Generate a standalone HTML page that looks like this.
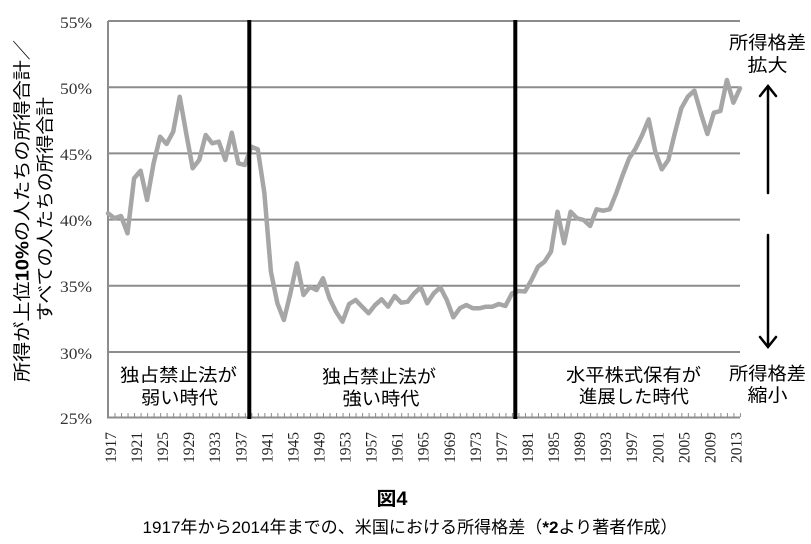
<!DOCTYPE html>
<html><head><meta charset="utf-8"><style>
html,body{margin:0;padding:0;background:#fff;}
svg{display:block;}
</style></head><body>
<svg width="811" height="544" viewBox="0 0 811 544" xmlns="http://www.w3.org/2000/svg">
<rect width="811" height="544" fill="#fff"/>
<!-- gridlines -->
<g stroke="#8c8c8c" stroke-width="2">
<line x1="108" y1="21" x2="740" y2="21"/>
<line x1="108" y1="87.2" x2="740" y2="87.2"/>
<line x1="108" y1="153.4" x2="740" y2="153.4"/>
<line x1="108" y1="219.6" x2="740" y2="219.6"/>
<line x1="108" y1="285.8" x2="740" y2="285.8"/>
<line x1="108" y1="352" x2="740" y2="352"/>
<line x1="108" y1="417.5" x2="740" y2="417.5"/>
<line x1="108" y1="21" x2="108" y2="418.5"/>
</g>
<line x1="108" y1="415" x2="741" y2="415" stroke="#8c8c8c" stroke-width="4" stroke-dasharray="1 5.515"/>
<!-- y tick labels -->
<g font-family="Liberation Serif, serif" font-size="16" fill="#333" text-anchor="end">
<text x="92" y="28" textLength="32" lengthAdjust="spacingAndGlyphs">55%</text>
<text x="92" y="94" textLength="32" lengthAdjust="spacingAndGlyphs">50%</text>
<text x="92" y="160" textLength="32" lengthAdjust="spacingAndGlyphs">45%</text>
<text x="92" y="226" textLength="32" lengthAdjust="spacingAndGlyphs">40%</text>
<text x="92" y="292" textLength="32" lengthAdjust="spacingAndGlyphs">35%</text>
<text x="92" y="359" textLength="32" lengthAdjust="spacingAndGlyphs">30%</text>
<text x="92" y="424" textLength="32" lengthAdjust="spacingAndGlyphs">25%</text>
</g>
<!-- data -->
<polyline fill="none" stroke="#a6a6a6" stroke-width="4.5" stroke-linejoin="round" stroke-linecap="round" points="
108.0,213.3 114.5,218.3 121.0,216 127.5,233.3 134.1,178.3 140.6,170.7 147.1,200 153.6,163.3 160.1,136.7 166.6,144
173.2,131.7 179.7,96.7 186.2,133.3 192.7,168.3 199.2,160 205.7,135 212.2,143.3 218.8,141.7 225.3,160 231.8,132.7
238.3,163.3 244.8,165 251.3,146.7 257.8,149.3 264.4,193.3 270.9,271.7 277.4,303.3 283.9,320 290.4,293.3 296.9,263.3
303.5,295 310.0,286.7 316.5,290 323.0,278.3 329.5,298.3 336.0,311.7 342.5,321.7 349.1,304 355.6,300 362.1,306.7
368.6,313.3 375.1,305 381.6,299.3 388.1,306.7 394.7,296 401.2,302.7 407.7,301.7 414.2,293.3 420.7,287.3 427.2,303.3
433.8,293.3 440.3,287.3 446.8,300 453.3,317.3 459.8,308.3 466.3,305 472.8,308.3 479.4,308.3 485.9,306.7 492.4,306.7
498.9,304 505.4,306 511.9,293.5 518.4,291 525.0,291.5 531.5,280 538.0,266.7 544.5,261.7 551.0,251.7 557.5,211.7
564.1,243.3 570.6,211.7 577.1,218.3 583.6,220 590.1,226 596.6,209.3 603.1,210.7 609.7,209.3 616.2,193.3 622.7,175
629.2,158.3 635.7,148.3 642.2,135 648.7,119.3 655.3,151.7 661.8,169.3 668.3,160 674.8,133.3 681.3,108.3 687.8,96.7
694.4,90.7 700.9,113.3 707.4,134 713.9,112.7 720.4,111 726.9,80 733.4,102.7 740.0,88.3"/>
<!-- black vertical lines -->
<line x1="249.3" y1="20" x2="249.3" y2="419" stroke="#000" stroke-width="4"/>
<line x1="515.3" y1="20" x2="515.3" y2="419" stroke="#000" stroke-width="4"/>
<!-- x labels -->
<g font-family="Liberation Serif, serif" font-size="16" fill="#222" text-anchor="end">
<text transform="translate(116,432) rotate(-90)" textLength="31" lengthAdjust="spacingAndGlyphs">1917</text>
<text transform="translate(142.1,432) rotate(-90)" textLength="31" lengthAdjust="spacingAndGlyphs">1921</text>
<text transform="translate(168.1,432) rotate(-90)" textLength="31" lengthAdjust="spacingAndGlyphs">1925</text>
<text transform="translate(194.2,432) rotate(-90)" textLength="31" lengthAdjust="spacingAndGlyphs">1929</text>
<text transform="translate(220.2,432) rotate(-90)" textLength="31" lengthAdjust="spacingAndGlyphs">1933</text>
<text transform="translate(246.3,432) rotate(-90)" textLength="31" lengthAdjust="spacingAndGlyphs">1937</text>
<text transform="translate(272.4,432) rotate(-90)" textLength="31" lengthAdjust="spacingAndGlyphs">1941</text>
<text transform="translate(298.4,432) rotate(-90)" textLength="31" lengthAdjust="spacingAndGlyphs">1945</text>
<text transform="translate(324.5,432) rotate(-90)" textLength="31" lengthAdjust="spacingAndGlyphs">1949</text>
<text transform="translate(350.5,432) rotate(-90)" textLength="31" lengthAdjust="spacingAndGlyphs">1953</text>
<text transform="translate(376.6,432) rotate(-90)" textLength="31" lengthAdjust="spacingAndGlyphs">1957</text>
<text transform="translate(402.7,432) rotate(-90)" textLength="31" lengthAdjust="spacingAndGlyphs">1961</text>
<text transform="translate(428.7,432) rotate(-90)" textLength="31" lengthAdjust="spacingAndGlyphs">1965</text>
<text transform="translate(454.8,432) rotate(-90)" textLength="31" lengthAdjust="spacingAndGlyphs">1969</text>
<text transform="translate(480.8,432) rotate(-90)" textLength="31" lengthAdjust="spacingAndGlyphs">1973</text>
<text transform="translate(506.9,432) rotate(-90)" textLength="31" lengthAdjust="spacingAndGlyphs">1977</text>
<text transform="translate(533,432) rotate(-90)" textLength="31" lengthAdjust="spacingAndGlyphs">1981</text>
<text transform="translate(559,432) rotate(-90)" textLength="31" lengthAdjust="spacingAndGlyphs">1985</text>
<text transform="translate(585.1,432) rotate(-90)" textLength="31" lengthAdjust="spacingAndGlyphs">1989</text>
<text transform="translate(611.1,432) rotate(-90)" textLength="31" lengthAdjust="spacingAndGlyphs">1993</text>
<text transform="translate(637.2,432) rotate(-90)" textLength="31" lengthAdjust="spacingAndGlyphs">1997</text>
<text transform="translate(663.3,432) rotate(-90)" textLength="31" lengthAdjust="spacingAndGlyphs">2001</text>
<text transform="translate(689.3,432) rotate(-90)" textLength="31" lengthAdjust="spacingAndGlyphs">2005</text>
<text transform="translate(715.4,432) rotate(-90)" textLength="31" lengthAdjust="spacingAndGlyphs">2009</text>
<text transform="translate(741.4,432) rotate(-90)" textLength="31" lengthAdjust="spacingAndGlyphs">2013</text>
</g>
<!-- y-axis title -->
<g font-family="Liberation Sans, Noto Sans CJK JP, sans-serif" font-size="18" fill="#000" text-anchor="middle">
<text transform="translate(28.5,211) rotate(-90)" textLength="342" lengthAdjust="spacingAndGlyphs">所得が上位<tspan font-weight="bold">10%</tspan>の人たちの所得合計／</text>
<text transform="translate(51.5,209) rotate(-90)" textLength="224" lengthAdjust="spacingAndGlyphs">すべての人たちの所得合計</text>
</g>
<!-- region labels -->
<g font-family="Liberation Sans, Noto Sans CJK JP, sans-serif" font-size="18" fill="#000" text-anchor="middle">
<text x="178.5" y="381.5" textLength="117" lengthAdjust="spacingAndGlyphs">独占禁止法が</text>
<text x="179.5" y="404" textLength="77" lengthAdjust="spacingAndGlyphs">弱い時代</text>
<text x="379" y="383" textLength="114" lengthAdjust="spacingAndGlyphs">独占禁止法が</text>
<text x="381" y="405" textLength="77" lengthAdjust="spacingAndGlyphs">強い時代</text>
<text x="633.5" y="381.5" textLength="135" lengthAdjust="spacingAndGlyphs">水平株式保有が</text>
<text x="634" y="403" textLength="110" lengthAdjust="spacingAndGlyphs">進展した時代</text>
<text x="767.5" y="49" textLength="77" lengthAdjust="spacingAndGlyphs">所得格差</text>
<text x="767.5" y="71.5" textLength="40" lengthAdjust="spacingAndGlyphs">拡大</text>
<text x="767.5" y="380" textLength="77" lengthAdjust="spacingAndGlyphs">所得格差</text>
<text x="767.5" y="401.5" textLength="40" lengthAdjust="spacingAndGlyphs">縮小</text>
</g>
<!-- arrows -->
<g stroke="#000" stroke-width="2.5" fill="none" stroke-linecap="round" stroke-linejoin="miter">
<line x1="768" y1="87" x2="768" y2="193"/>
<polyline points="760,96 768,86 776,96"/>
<line x1="768" y1="235" x2="768" y2="345"/>
<polyline points="760,337 768,347 776,337"/>
</g>
<!-- caption -->
<text x="392" y="505" font-family="Liberation Sans, Noto Sans CJK JP, sans-serif" font-size="19" font-weight="bold" text-anchor="middle" fill="#000" textLength="31" lengthAdjust="spacingAndGlyphs">図4</text>
<text x="410" y="533" font-family="Liberation Sans, Noto Sans CJK JP, sans-serif" font-size="17" text-anchor="middle" fill="#000" textLength="535" lengthAdjust="spacingAndGlyphs">1917年から2014年までの、米国における所得格差（<tspan font-weight="bold">*2</tspan>より著者作成）</text>
</svg>
</body></html>
